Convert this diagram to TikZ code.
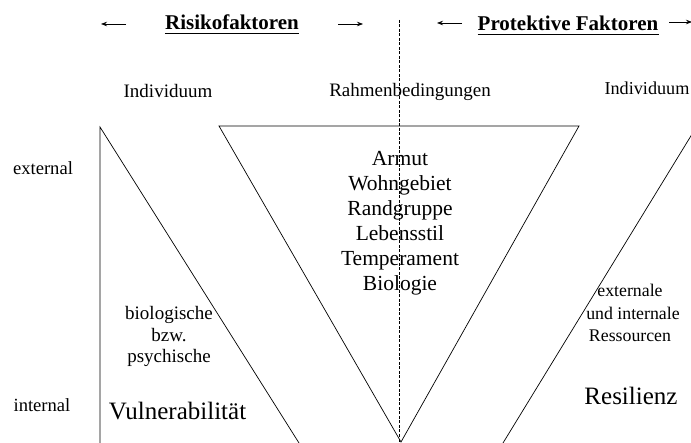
\documentclass[tikz,border=0pt]{standalone}
\usepackage{fontspec}
\setmainfont{Liberation Serif}
\usetikzlibrary{arrows.meta}
\begin{document}
\begin{tikzpicture}[x=1pt,y=-1pt,
  lbl/.style={anchor=base,inner sep=0pt,font=\fontsize{19}{22}\selectfont},
  lst/.style={anchor=base,inner sep=0pt,font=\fontsize{21.5}{25}\selectfont},
  res/.style={anchor=base,inner sep=0pt,font=\fontsize{17.8}{22}\selectfont},
  big/.style={anchor=base,inner sep=0pt,font=\fontsize{25}{28}\selectfont},
  head/.style={anchor=base,inner sep=0pt,font=\fontsize{21}{24}\selectfont\bfseries},
  ln/.style={line width=0.7pt},
  arr/.style={line width=0.7pt,-{Stealth[length=6pt,width=4.5pt]}},
  uline/.style={line width=1.4pt}]
\useasboundingbox (0,0) rectangle (691,443);
\clip (0,0) rectangle (691,443);
% headings
\node[head] (risk) at (232,30) {Risikofaktoren};
\node[head] (prot) at (568,31) {Protektive Faktoren};
\draw[uline] ([yshift=-3.5pt]risk.base west) -- ([yshift=-3.5pt]risk.base east);
\draw[uline] ([yshift=-3.5pt]prot.base west) -- ([yshift=-3.5pt]prot.base east);
\coordinate (a1s) at (126,24); \coordinate (a1e) at (101,24);
\coordinate (a2s) at (338,24); \coordinate (a2e) at (363,24);
\coordinate (a3s) at (462,23); \coordinate (a3e) at (437,23);
\coordinate (a4s) at (669,22); \coordinate (a4e) at (692,22);
\draw[arr] (a1s) -- (a1e);
\draw[arr] (a2s) -- (a2e);
\draw[arr] (a3s) -- (a3e);
\draw[arr] (a4s) -- (a4e);
% column labels
\node[lbl] (ind1) at (168,98) {Individuum};
\node[lbl] (rahm) at (410,97) {Rahmenbedingungen};
\node[lbl,font=\fontsize{18.2}{22}\selectfont] (ind2) at (647,95) {Individuum};
\node[lbl,font=\fontsize{18.6}{22}\selectfont] (ext) at (43,175) {external};
\node[lbl,font=\fontsize{18.6}{22}\selectfont] (int) at (42,412) {internal};
% shapes
\coordinate (lt) at (100,127);
\coordinate (lb) at (100,443);
\coordinate (ld) at (299,443);
\draw[ln] (lb) -- (lt) -- (ld);
\coordinate (mtl) at (219,126);
\coordinate (mtr) at (579,126);
\coordinate (mb) at (401,442);
\draw[ln] (mtl) -- (mtr) -- (mb) -- cycle;
\coordinate (rt) at (697,126);
\coordinate (rb) at (503,443);
\draw[ln] (rt) -- (rb);
\coordinate (dt) at (399,20);
\coordinate (db) at (399,443);
\draw[line width=0.6pt,dash pattern=on 3pt off 1.5pt] (dt) -- (db);
% middle list
\node[lst] (l1) at (400,166) {Armut};
\node[lst] (l2) at (400,191) {Wohngebiet};
\node[lst] (l3) at (400,216) {Randgruppe};
\node[lst] (l4) at (400,241) {Lebensstil};
\node[lst] (l5) at (400,266) {Temperament};
\node[lst] (l6) at (400,291) {Biologie};
% left texts
\node[lbl] (b1) at (169,320) {biologische};
\node[lbl] (b2) at (169,342) {bzw.};
\node[lbl] (b3) at (169,363) {psychische};
\node[big] (vul) at (177.5,420) {Vulnerabilität};
% right texts
\node[res] (r1) at (630,297) {externale};
\node[res] (r2) at (633,320) {und internale};
\node[res] (r3) at (630,342) {Ressourcen};
\node[big] (resi) at (631,405) {Resilienz};
\end{tikzpicture}
\end{document}
